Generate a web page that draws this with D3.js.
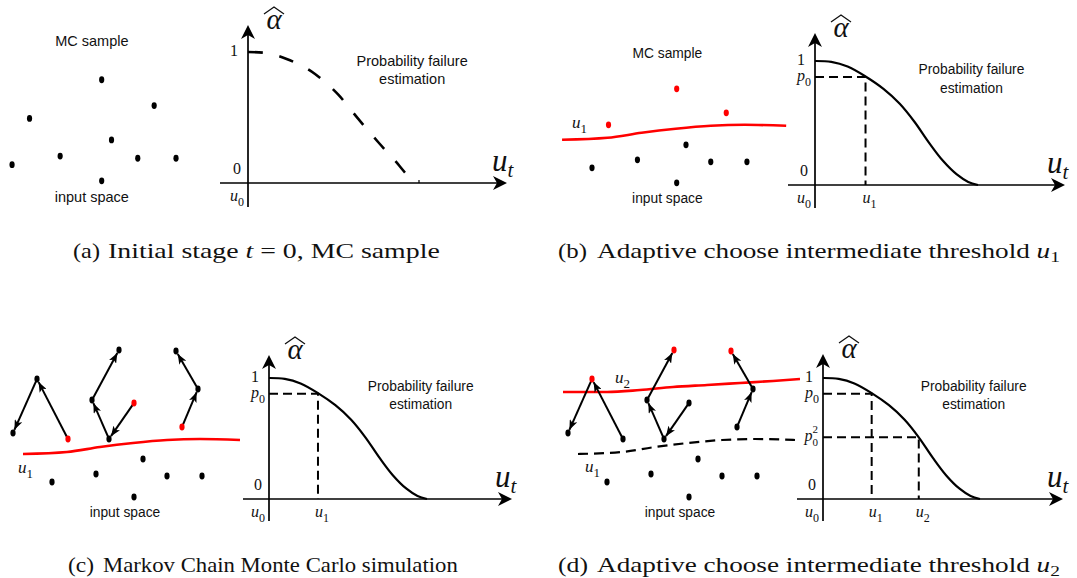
<!DOCTYPE html>
<html>
<head>
<meta charset="utf-8">
<script src="https://cdn.jsdelivr.net/npm/d3@7/dist/d3.min.js"></script>
<style>
body { margin: 0; background: #fff; }
svg { display: block; }
</style>
</head>
<body>
<svg id="fig" width="1077" height="578"></svg>
<script>
// MC samples in input space (shared frame, x 0-250, y 0-215)
var sampleX = [134, 182, 68, 143, 96, 167, 202, 52, 134];
var sampleY = [73, 97, 109, 129, 144, 146, 146, 152, 167];

// markov chains started from the failed samples
var chainX = [[68, 37, 13], [134, 109, 92, 119], [182, 198, 176]];
var chainY = [[109, 49, 103], [73, 109, 70, 20], [97, 59, 21]];

// threshold surfaces in input space
var u1X = [23, 67, 100, 133, 167, 200, 240];
var u1Y = [124, 122, 117, 113, 110, 109, 110];
var u2X = [8, 52, 85, 118, 152, 185, 218, 245];
var u2Y = [62, 62, 60, 57, 55, 53, 51, 49];

// alpha-hat curves (u scaled so that the curve reaches 0 at u = 1)
var curveU = [0, 0.1, 0.2, 0.31, 0.42, 0.52, 0.61, 0.70, 0.785, 0.87, 0.94, 1];
var curveA = [1, 0.993, 0.955, 0.875, 0.775, 0.655, 0.51, 0.34, 0.195, 0.085, 0.025, 0];
var guessU = [0, 0.09, 0.226, 0.392, 0.528, 0.645, 0.762, 0.885, 0.918];
var guessA = [1, 0.995, 0.947, 0.832, 0.674, 0.489, 0.311, 0.132, 0.079];
var thresholdU = [0.31, 0.61];
var thresholdP = [0.87, 0.51];
var thresholdSub = ["1", "2"];
var thresholdSup = ["", "2"];

var captionTags = ["(a)", "(b)", "(c)", "(d)"];
var captionText = ["Initial stage ", "Adaptive choose intermediate threshold ", "Markov Chain Monte Carlo simulation", "Adaptive choose intermediate threshold "];
var captionVar = ["t", "u", "", "u"];
var captionSub = ["", "1", "", "2"];
var captionTail = [" = 0, MC sample", "", "", ""];

var serif = "'Liberation Serif', 'DejaVu Serif', serif";
var sans = "'Liberation Sans', Arial, sans-serif";

// layout of the four sub figures
var panels = [
  {ix: [-44.8, 228.5], iy: [1.3, 232.4], ax: 248, ay: 183, W: 171, H: 131, left: 220, bottom: 207, tipX: 507, tipY: 25, txt: 14.5, utX: 492, cap: [73, 100, 108, 440, 258]},
  {ix: [538.3, 796.5], iy: [15.8, 230.8], ax: 815, ay: 185, W: 163, H: 124, left: 788, bottom: 208, tipX: 1065, tipY: 33, txt: 13.8, utX: 1047, cap: [558, 587, 597, 1060, 258]},
  {ix: [0, 250], iy: [330, 545], ax: 269, ay: 499, W: 158, H: 121, left: 243, bottom: 521, tipX: 512, tipY: 355, txt: 13.8, utX: 495, cap: [68, 94, 103, 458, 572]},
  {ix: [555, 805], iy: [330, 545], ax: 823, ay: 499, W: 157, H: 121, left: 797, bottom: 521, tipX: 1063, tipY: 354, txt: 13.8, utX: 1047, cap: [558, 588, 597, 1060, 572]}
];

var svg = d3.select("#fig");
var defs = svg.append("defs");
defs.append("marker")
    .attr("id", "mc-arrow")
    .attr("viewBox", "0 0 10 8")
    .attr("refX", 10).attr("refY", 4)
    .attr("markerWidth", 10).attr("markerHeight", 8)
    .attr("markerUnits", "userSpaceOnUse")
    .attr("orient", "auto")
  .append("path")
    .attr("d", "M0,0 L10,4 L0,8 L2.5,4 Z")
    .attr("fill", "#000");

function mathLabel(g, x, y, base, sub, size, anchor, sup) {
    var t = g.append("text").attr("x", x).attr("y", y)
        .attr("font-family", serif).attr("font-size", size)
        .attr("text-anchor", anchor || "start").attr("fill", "#111");
    t.append("tspan").attr("font-style", isNaN(+base) ? "italic" : "normal").text(base);
    var small = Math.round(size * 0.74);
    if (sup) {
        // stacked super/subscript as two separate texts
        var bw = t.node().getComputedTextLength();
        var x0 = anchor == "end" ? x - small * 0.55 : x + bw;
        if (anchor == "end") t.attr("x", x0);
        g.append("text").attr("x", x0).attr("y", y - size * 0.5)
            .attr("font-family", serif).attr("font-size", small - 1).attr("fill", "#111").text(sup);
        g.append("text").attr("x", x0).attr("y", y + size * 0.32)
            .attr("font-family", serif).attr("font-size", small - 1).attr("fill", "#111").text(sub);
    } else if (sub) {
        t.append("tspan").attr("font-size", small).attr("dy", size * 0.3).text(sub);
    }
    return t;
}

// height of a threshold line at position x
function lineAt(xs, ys, x) {
    return d3.scaleLinear().domain(xs).range(ys).clamp(true)(x);
}

var inLine = function(sx, sy) {
    return d3.line().x(function(d) { return sx(d[0]); }).y(function(d) { return sy(d[1]); }).curve(d3.curveMonotoneX);
};

panels.forEach(function(p, stage) {
    var g = svg.append("g");
    var ix = d3.scaleLinear().domain([0, 250]).range(p.ix);
    var iy = d3.scaleLinear().domain([0, 215]).range(p.iy);
    var cx = d3.scaleLinear().domain([0, 1]).range([p.ax, p.ax + p.W]);
    var cy = d3.scaleLinear().domain([0, 1]).range([p.ay, p.ay - p.H]);

    // ---------- input space ----------
    var u1pts = u1X.map(function(x, i) { return [x, u1Y[i]]; });
    var u2pts = u2X.map(function(x, i) { return [x, u2Y[i]]; });
    if (stage == 1 || stage == 2) {
        g.append("path").attr("d", inLine(ix, iy)(u1pts))
            .attr("fill", "none").attr("stroke", "#f00").attr("stroke-width", 2.6);
    }
    if (stage == 3) {
        g.append("path").attr("d", inLine(ix, iy)(u1pts))
            .attr("fill", "none").attr("stroke", "#000").attr("stroke-width", 2.2)
            .attr("stroke-dasharray", "10,6");
        g.append("path").attr("d", inLine(ix, iy)(u2pts))
            .attr("fill", "none").attr("stroke", "#f00").attr("stroke-width", 2.6);
    }
    if (stage == 1) mathLabel(g, ix(32.6), iy(112), "u", "1", 17);
    if (stage == 2) mathLabel(g, ix(18), iy(143), "u", "1", 17);
    if (stage == 3) {
        mathLabel(g, ix(30), iy(142), "u", "1", 17);
        mathLabel(g, ix(60), iy(53), "u", "2", 17);
    }

    // dots: [x, y, red]; red = sample above the current threshold
    var dots = sampleX.map(function(x, i) {
        var y = sampleY[i];
        return [x, y, (stage == 1 || stage == 2) && y < lineAt(u1X, u1Y, x)];
    });
    if (stage >= 2) {
        chainX.forEach(function(cxs, c) {
            for (var k = 0; k < cxs.length - 1; k++) {
                var x0 = ix(cxs[k]), y0 = iy(chainY[c][k]);
                var x1 = ix(cxs[k + 1]), y1 = iy(chainY[c][k + 1]);
                var len = Math.hypot(x1 - x0, y1 - y0);
                var s0 = 2 / len, s1 = (len - 3.5) / len;
                g.append("line")
                    .attr("x1", x0 + (x1 - x0) * s0).attr("y1", y0 + (y1 - y0) * s0)
                    .attr("x2", x0 + (x1 - x0) * s1).attr("y2", y0 + (y1 - y0) * s1)
                    .attr("stroke", "#000").attr("stroke-width", 2)
                    .attr("marker-end", "url(#mc-arrow)");
            }
            for (var k = 1; k < cxs.length; k++) {
                var y = chainY[c][k];
                dots.push([cxs[k], y, stage == 3 && y < lineAt(u2X, u2Y, cxs[k])]);
            }
        });
    }
    g.selectAll("ellipse.dot").data(dots).enter().append("ellipse")
        .attr("class", "dot")
        .attr("cx", function(d) { return ix(d[0]); })
        .attr("cy", function(d) { return iy(d[1]); })
        .attr("rx", 2.6).attr("ry", 3.4)
        .attr("fill", function(d) { return d[2] ? "#f00" : "#000"; });

    if (stage <= 1) {
        g.append("text").attr("x", ix(125)).attr("y", iy(42))
            .attr("text-anchor", "middle").attr("font-family", sans).attr("font-size", p.txt)
            .attr("fill", "#111").text("MC sample");
    }
    g.append("text").attr("x", ix(125)).attr("y", iy(187))
        .attr("text-anchor", "middle").attr("font-family", sans).attr("font-size", p.txt)
        .attr("fill", "#111").text("input space");

    // ---------- probability failure chart ----------
    g.append("line").attr("x1", p.left).attr("x2", p.tipX - 8).attr("y1", p.ay).attr("y2", p.ay)
        .attr("stroke", "#000").attr("stroke-width", 1.7);
    g.append("line").attr("x1", p.ax).attr("x2", p.ax).attr("y1", p.bottom).attr("y2", p.tipY + 8)
        .attr("stroke", "#000").attr("stroke-width", 1.7);
    g.append("path").attr("fill", "#000")
        .attr("d", "M" + p.ax + "," + p.tipY + " L" + (p.ax - 7) + "," + (p.tipY + 14) +
            " L" + p.ax + "," + (p.tipY + 10) + " L" + (p.ax + 7) + "," + (p.tipY + 14) + " Z");
    g.append("path").attr("fill", "#000")
        .attr("d", "M" + p.tipX + "," + p.ay + " L" + (p.tipX - 14) + "," + (p.ay - 7) +
            " L" + (p.tipX - 10) + "," + p.ay + " L" + (p.tipX - 14) + "," + (p.ay + 7) + " Z");

    var cLine = d3.line().x(function(d) { return cx(d[0]); }).y(function(d) { return cy(d[1]); });
    if (stage == 0) {
        var guess = g.append("path")
            .attr("d", cLine.curve(d3.curveMonotoneX)(guessU.map(function(u, i) { return [u, guessA[i]]; })))
            .attr("fill", "none").attr("stroke", "#000").attr("stroke-width", 2.6);
        // 7 dashes, 6 gaps, dash:gap = 14:16
        var L = guess.node().getTotalLength();
        var dash = L * 14 / (7 * 14 + 6 * 16);
        guess.attr("stroke-dasharray", dash + "," + (dash * 16 / 14));
        g.append("line").attr("x1", cx(1)).attr("x2", cx(1)).attr("y1", p.ay - 3).attr("y2", p.ay)
            .attr("stroke", "#000").attr("stroke-width", 1.2);
    } else {
        var nth = stage == 3 ? 2 : 1;
        for (var t = 0; t < nth; t++) {
            g.append("path")
                .attr("d", "M" + p.ax + "," + cy(thresholdP[t]) + " H" + cx(thresholdU[t]) + " V" + p.ay)
                .attr("fill", "none").attr("stroke", "#000").attr("stroke-width", 2)
                .attr("stroke-dasharray", "9,5");
            mathLabel(g, cx(thresholdU[t]) - 3, p.ay + 18, "u", thresholdSub[t], 16);
            mathLabel(g, p.ax - 4, cy(thresholdP[t]) + 4, "p", "0", 16, "end", thresholdSup[t]);
        }
        g.append("path")
            .attr("d", cLine.curve(d3.curveCatmullRom.alpha(0.5))(curveU.map(function(u, i) { return [u, curveA[i]]; })))
            .attr("fill", "none").attr("stroke", "#000").attr("stroke-width", 2.2);
    }

    mathLabel(g, p.ax - 10, cy(1) + 4, "1", "", 16, "end");
    mathLabel(g, p.ax - 7, p.ay - 9, "0", "", 16, "end");
    mathLabel(g, p.ax - 4, p.ay + 18, "u", "0", 16, "end");
    mathLabel(g, p.utX, p.ay - 12, "u", "", 31).append("tspan")
        .attr("font-size", 21).attr("font-style", "italic").attr("dy", 6).text("t");

    // alpha hat
    var ahx = p.ax + 26, ahy = p.tipY + 4;
    g.append("text").attr("x", ahx).attr("y", ahy).attr("text-anchor", "middle")
        .attr("font-family", serif).attr("font-style", "italic").attr("font-size", 29)
        .attr("fill", "#111").text("\u03b1");
    g.append("path").attr("fill", "none").attr("stroke", "#111").attr("stroke-width", 1.3)
        .attr("d", "M" + (ahx - 10) + "," + (ahy - 15) + " L" + ahx + "," + (ahy - 22) + " L" + (ahx + 10) + "," + (ahy - 15));

    g.append("text").attr("x", cx(0.96)).attr("y", cy(0.895)).attr("text-anchor", "middle")
        .attr("font-family", sans).attr("font-size", p.txt).attr("fill", "#111").text("Probability failure");
    g.append("text").attr("x", cx(0.96)).attr("y", cy(0.895) + 18.5).attr("text-anchor", "middle")
        .attr("font-family", sans).attr("font-size", p.txt).attr("fill", "#111").text("estimation");

    // ---------- caption ----------
    var tag = g.append("text").attr("font-family", serif).attr("font-size", 21).attr("fill", "#111")
        .text(captionTags[stage]);
    var tw = tag.node().getComputedTextLength();
    tag.attr("transform", "translate(" + p.cap[0] + "," + p.cap[4] + ") scale(" + ((p.cap[1] - p.cap[0]) / tw) + ",1)");
    var body = g.append("text").attr("font-family", serif).attr("font-size", 21).attr("fill", "#111");
    body.append("tspan").text(captionText[stage]);
    if (captionVar[stage]) body.append("tspan").attr("font-style", "italic").text(captionVar[stage]);
    if (captionSub[stage]) body.append("tspan").attr("font-size", 15).attr("dy", 4).text(captionSub[stage]);
    if (captionTail[stage]) body.append("tspan").text(captionTail[stage]);
    var bw = body.node().getComputedTextLength();
    body.attr("transform", "translate(" + p.cap[2] + "," + p.cap[4] + ") scale(" + ((p.cap[3] - p.cap[2]) / bw) + ",1)");
});
</script>
</body>
</html>
